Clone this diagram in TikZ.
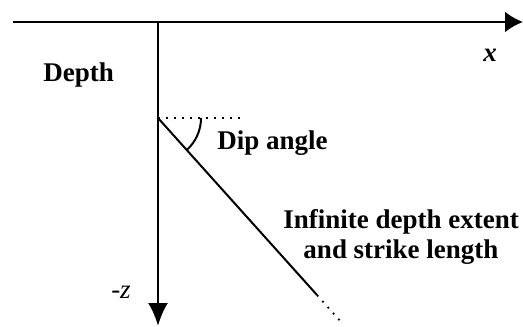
\documentclass[tikz,border=0pt]{standalone}
\usepackage{fontspec}
\setmainfont{Liberation Serif}
\usepackage{xcolor,tikz}
\usetikzlibrary{arrows.meta,calc}

\tikzset{
  axisLine/.style={line width=1.3pt},
  dipLine/.style={line width=1pt},
  dotLine/.style={line width=0.9pt, dash pattern=on 0.9pt off 3.1pt},
  lblBold/.style={inner sep=0pt, font=\fontsize{13.5}{15}\selectfont\bfseries},
}

\begin{document}
\begin{tikzpicture}[x=0.5pt, y=0.5pt]

% frame of the picture
\useasboundingbox (0,0) rectangle (523,326);

%% axes =============================================================
\coordinate (xStart) at (13,304);
\coordinate (xEnd)   at (523,304);
\coordinate (orig)   at (158,304);
\coordinate (zEnd)   at (158,0);

\draw[axisLine, -{Latex[length=9pt, width=10.5pt]}] (xStart) -- (xEnd);
\draw[axisLine, -{Latex[length=11.5pt, width=10pt]}] (orig) -- (zEnd);

%% dipping plane ====================================================
\coordinate (dipTop)   at (158,208);
\coordinate (horizEnd) at (240,208);
\coordinate (dipMid)   at (317,31);
\coordinate (dipEnd)   at (342,3);

\draw[dotLine] (dipTop) -- (horizEnd);
\draw[dipLine] (dipTop) -- (dipMid);
\draw[dotLine] (dipMid) -- (dipEnd);
\draw[dipLine] ([shift={(0:21.5pt)}]dipTop)
  arc[start angle=0, end angle=-48, radius=21.5pt];

%% labels ===========================================================
\node[lblBold, anchor=base west] (depthLbl) at (43,244) {Depth};
\node[lblBold, anchor=base west] (dipLbl)   at (217,176) {Dip angle};
\node[lblBold, align=center]     (extLbl)   at (401,89)
  {Infinite depth extent\\and strike length};
\node[lblBold, anchor=base, font=\fontsize{13.5}{15}\selectfont\bfseries\itshape]
  (xLbl) at (490,264) {x};
\node[inner sep=0pt, anchor=base, font=\fontsize{13.5}{15}\selectfont\itshape]
  (zLbl) at (121,28) {-z};

\end{tikzpicture}
\end{document}
